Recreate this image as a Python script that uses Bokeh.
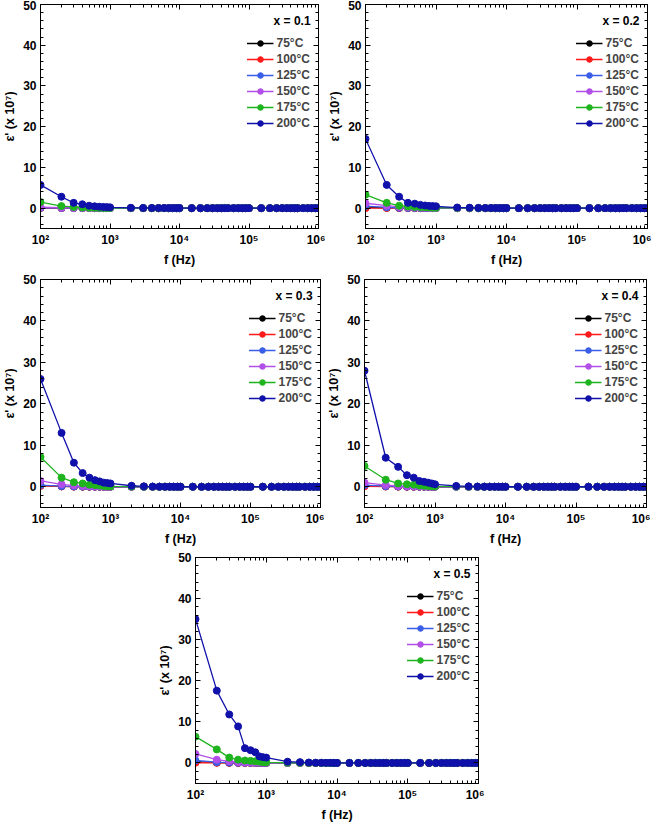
from bokeh.plotting import figure
from bokeh.models import (Range1d, LinearAxis, LogAxis, FixedTicker, CustomJSTickFormatter,
                          Legend, LegendItem, Label, Spacer)
from bokeh.layouts import column, row
from bokeh.embed import file_html
from bokeh.resources import INLINE

FONT = "Liberation Sans"

# ---------------- data ----------------
F_LOW = [100, 200, 300, 400, 500, 600, 700, 800, 900, 1000]
F_MID = [2000, 3000, 4000, 5000, 6000, 7000, 8000, 9000, 10000]
F_HIGH = [15000, 20000, 25000, 30000, 35000, 40000, 45000, 50000, 60000, 70000, 80000, 90000,
          100000, 150000, 200000, 250000, 300000, 350000, 400000, 450000, 500000, 600000,
          700000, 800000, 900000, 1000000]
FREQ = F_LOW + F_MID + F_HIGH
# values above 10 kHz are ~0 for every curve
TAIL = [0.0, 0.0, 0.0, 0.0, 0.0, 0.0, 0.0, 0.0, 0.0, 0.0, 0.0, 0.0, 0.0,
        0.0, 0.0, 0.0, 0.0, 0.0, 0.0, 0.0, 0.0, 0.0, 0.0, 0.0, 0.0, 0.0]

TEMPS = ["75°C", "100°C", "125°C", "150°C", "175°C", "200°C"]
COLORS = ["#000000", "#ff1a1a", "#3a5ee8", "#b24fe8", "#1db41d", "#1010aa"]
PANEL_TITLES = ["x = 0.1", "x = 0.2", "x = 0.3", "x = 0.4", "x = 0.5"]

# epsilon' (x 10^7) at F_LOW + F_MID, one list per temperature (75 -> 200 C)
EPS_X01 = [
    [0.05, 0.03, 0.02, 0.02, 0.01, 0.01, 0.01, 0.01, 0.01, 0.01, 0, 0, 0, 0, 0, 0, 0, 0, 0],
    [0.08, 0.04, 0.03, 0.02, 0.02, 0.01, 0.01, 0.01, 0.01, 0.01, 0, 0, 0, 0, 0, 0, 0, 0, 0],
    [0.10, 0.05, 0.03, 0.02, 0.02, 0.01, 0.01, 0.01, 0.01, 0.01, 0, 0, 0, 0, 0, 0, 0, 0, 0],
    [0.25, 0.10, 0.06, 0.04, 0.03, 0.02, 0.02, 0.02, 0.01, 0.01, 0, 0, 0, 0, 0, 0, 0, 0, 0],
    [1.5, 0.5, 0.3, 0.15, 0.1, 0.08, 0.06, 0.05, 0.04, 0.03, 0.02, 0.01, 0, 0, 0, 0, 0, 0, 0],
    [5.7, 2.8, 1.3, 0.95, 0.6, 0.45, 0.35, 0.3, 0.25, 0.2, 0.08, 0.05, 0.03, 0.02, 0.02, 0.01, 0.01, 0.01, 0.01],
]
EPS_X02 = [
    [0.2, 0.1, 0.05, 0.03, 0.02, 0.02, 0.01, 0.01, 0.01, 0.01, 0, 0, 0, 0, 0, 0, 0, 0, 0],
    [0.0, 0.02, 0.02, 0.01, 0.01, 0.01, 0.01, 0.01, 0.01, 0.01, 0, 0, 0, 0, 0, 0, 0, 0, 0],
    [0.5, 0.2, 0.1, 0.06, 0.04, 0.03, 0.02, 0.02, 0.02, 0.01, 0, 0, 0, 0, 0, 0, 0, 0, 0],
    [1.2, 0.6, 0.3, 0.2, 0.15, 0.1, 0.08, 0.06, 0.05, 0.04, 0.01, 0, 0, 0, 0, 0, 0, 0, 0],
    [3.3, 1.3, 0.6, 0.4, 0.3, 0.25, 0.2, 0.15, 0.12, 0.1, 0.05, 0.02, 0, 0, 0, 0, 0, 0, 0],
    [17.0, 5.7, 2.8, 1.3, 1.1, 0.8, 0.65, 0.55, 0.5, 0.45, 0.15, 0.1, 0.05, 0.03, 0.02, 0.02, 0.01, 0.01, 0.01],
]
EPS_X03 = [
    [0.3, 0.1, 0.05, 0.03, 0.02, 0.02, 0.01, 0.01, 0.01, 0.01, 0, 0, 0, 0, 0, 0, 0, 0, 0],
    [0.2, 0.08, 0.04, 0.03, 0.02, 0.01, 0.01, 0.01, 0.01, 0.01, 0, 0, 0, 0, 0, 0, 0, 0, 0],
    [0.4, 0.15, 0.08, 0.05, 0.04, 0.03, 0.02, 0.02, 0.02, 0.01, 0, 0, 0, 0, 0, 0, 0, 0, 0],
    [1.4, 0.6, 0.3, 0.2, 0.15, 0.1, 0.08, 0.06, 0.05, 0.04, 0.01, 0, 0, 0, 0, 0, 0, 0, 0],
    [7.2, 2.2, 1.1, 0.8, 0.5, 0.4, 0.3, 0.2, 0.15, 0.1, 0.05, 0.02, 0, 0, 0, 0, 0, 0, 0],
    [26.0, 13.0, 5.8, 3.3, 2.2, 1.6, 1.3, 1.0, 0.9, 0.8, 0.25, 0.1, 0.05, 0.03, 0.02, 0.02, 0.01, 0.01, 0.01],
]
EPS_X04 = [
    [0.3, 0.1, 0.05, 0.03, 0.02, 0.02, 0.01, 0.01, 0.01, 0.01, 0, 0, 0, 0, 0, 0, 0, 0, 0],
    [0.1, 0.05, 0.03, 0.02, 0.01, 0.01, 0.01, 0.01, 0.01, 0.01, 0, 0, 0, 0, 0, 0, 0, 0, 0],
    [0.4, 0.15, 0.08, 0.05, 0.04, 0.03, 0.02, 0.02, 0.02, 0.01, 0, 0, 0, 0, 0, 0, 0, 0, 0],
    [1.0, 0.4, 0.2, 0.15, 0.1, 0.08, 0.06, 0.05, 0.04, 0.03, 0.01, 0, 0, 0, 0, 0, 0, 0, 0],
    [5.0, 1.7, 0.8, 0.6, 0.5, 0.3, 0.25, 0.2, 0.15, 0.1, 0.05, 0.02, 0, 0, 0, 0, 0, 0, 0],
    [28.0, 7.0, 4.8, 2.8, 2.2, 1.4, 1.2, 1.0, 0.8, 0.6, 0.2, 0.1, 0.05, 0.03, 0.02, 0.02, 0.01, 0.01, 0.01],
]
EPS_X05 = [
    [0.3, 0.1, 0.05, 0.03, 0.02, 0.02, 0.01, 0.01, 0.01, 0.01, 0, 0, 0, 0, 0, 0, 0, 0, 0],
    [0.05, 0.03, 0.02, 0.01, 0.01, 0.01, 0.01, 0.01, 0.01, 0.01, 0, 0, 0, 0, 0, 0, 0, 0, 0],
    [0.6, 0.2, 0.1, 0.06, 0.05, 0.04, 0.03, 0.02, 0.02, 0.02, 0, 0, 0, 0, 0, 0, 0, 0, 0],
    [2.2, 0.8, 0.4, 0.2, 0.15, 0.1, 0.08, 0.06, 0.05, 0.04, 0.01, 0, 0, 0, 0, 0, 0, 0, 0],
    [6.4, 3.3, 1.3, 0.8, 0.6, 0.5, 0.4, 0.3, 0.2, 0.15, 0.05, 0.02, 0, 0, 0, 0, 0, 0, 0],
    [35.0, 17.6, 11.8, 8.9, 3.6, 3.1, 2.6, 1.6, 1.4, 1.3, 0.3, 0.2, 0.1, 0.05, 0.03, 0.02, 0.02, 0.01, 0.01],
]
PANEL_DATA = [EPS_X01, EPS_X02, EPS_X03, EPS_X04, EPS_X05]

X_MAJOR = [1e2, 1e3, 1e4, 1e5, 1e6]
X_MINOR = [200, 300, 400, 500, 600, 700, 800, 900,
           2000, 3000, 4000, 5000, 6000, 7000, 8000, 9000,
           20000, 30000, 40000, 50000, 60000, 70000, 80000, 90000,
           200000, 300000, 400000, 500000, 600000, 700000, 800000, 900000]
Y_MAJOR = [0, 10, 20, 30, 40, 50]
Y_MINOR = [-4, -2, 2, 4, 6, 8, 12, 14, 16, 18, 22, 24, 26, 28, 32, 34, 36, 38, 42, 44, 46, 48]


def pow_fmt():
    return CustomJSTickFormatter(code="""
const sup = {2: '\\u00b2', 3: '\\u00b3', 4: '\\u2074', 5: '\\u2075', 6: '\\u2076'};
return '10' + sup[Math.round(Math.log10(tick))];
""")


def style_axis(ax, labels=True):
    ax.axis_line_color = "black"
    ax.axis_line_width = 1
    ax.major_tick_in = 5
    ax.major_tick_out = 0
    ax.minor_tick_in = 3
    ax.minor_tick_out = 0
    ax.major_tick_line_color = "black"
    ax.minor_tick_line_color = "black"
    if labels:
        ax.major_label_text_font = FONT
        ax.major_label_text_font_style = "bold"
        ax.major_label_text_font_size = "12px"
        ax.major_label_text_color = "black"
        ax.major_label_standoff = 4
        ax.axis_label_text_font = FONT
        ax.axis_label_text_font_style = "bold"
        ax.axis_label_text_font_size = "12.5px"
        ax.axis_label_text_color = "black"
        ax.axis_label_standoff = 3
    else:
        ax.formatter = CustomJSTickFormatter(code="return '';")
        ax.major_label_standoff = 0


def make_panel(idx, frame_w, frame_h, b_left, b_right, b_top, b_bottom):
    p = figure(x_axis_type="log", x_range=Range1d(100, 1e6), y_range=Range1d(-5, 50),
               frame_width=frame_w, frame_height=frame_h,
               min_border_left=b_left, min_border_right=b_right,
               min_border_top=b_top, min_border_bottom=b_bottom,
               output_backend="svg", toolbar_location=None)
    p.xgrid.visible = False
    p.ygrid.visible = False
    p.outline_line_color = "black"
    p.outline_line_alpha = 1
    p.background_fill_color = "white"
    p.border_fill_color = "white"

    p.xaxis.ticker = FixedTicker(ticks=X_MAJOR, minor_ticks=X_MINOR)
    p.xaxis.formatter = pow_fmt()
    p.xaxis.axis_label = "f (Hz)"
    p.yaxis.ticker = FixedTicker(ticks=Y_MAJOR, minor_ticks=Y_MINOR)
    p.yaxis.axis_label = "ε' (x 10\u2077)"
    style_axis(p.xaxis[0])
    style_axis(p.yaxis[0])

    top = LogAxis(ticker=FixedTicker(ticks=X_MAJOR, minor_ticks=X_MINOR))
    style_axis(top, labels=False)
    p.add_layout(top, "above")
    right = LinearAxis(ticker=FixedTicker(ticks=Y_MAJOR, minor_ticks=Y_MINOR))
    style_axis(right, labels=False)
    p.add_layout(right, "right")

    items = []
    for vals, temp, col in zip(PANEL_DATA[idx], TEMPS, COLORS):
        y = list(vals) + TAIL
        ln = p.line(FREQ, y, line_color=col, line_width=1.3)
        sc = p.scatter(FREQ, y, size=7, fill_color=col, line_color=col, marker="circle")
        items.append(LegendItem(label=temp, renderers=[ln, sc]))

    leg = Legend(items=items, location="top_right")
    leg.glyph_width = 27
    leg.glyph_height = 14
    leg.label_height = 14
    leg.spacing = 2
    leg.padding = 4
    leg.margin = 4
    leg.label_standoff = 3
    leg.label_text_font = FONT
    leg.label_text_font_style = "bold"
    leg.label_text_font_size = "12px"
    leg.background_fill_alpha = 0
    leg.border_line_alpha = 0
    leg.title = " "
    leg.title_text_font_size = "12px"
    leg.title_standoff = 10
    p.add_layout(leg)

    p.add_layout(Label(x=7.7e5, y=46.0, text=PANEL_TITLES[idx], text_align="right",
                       text_baseline="middle", text_font=FONT, text_font_style="bold",
                       text_font_size="12px", text_color="black"))
    return p


p1 = make_panel(0, 278, 224, 38, 7, 4, 38)
p2 = make_panel(1, 282, 224, 38, 4, 4, 38)
p3 = make_panel(2, 280, 228, 38, 4, 10, 36)
p4 = make_panel(3, 282, 228, 38, 4, 10, 36)
p5 = make_panel(4, 283, 226, 38, 6, 9, 34)

layout = column(row(p1, p2), row(p3, p4), row(Spacer(width=155, height=10), p5))

with open("out.html", "w") as f:
    f.write(file_html(layout, INLINE))
